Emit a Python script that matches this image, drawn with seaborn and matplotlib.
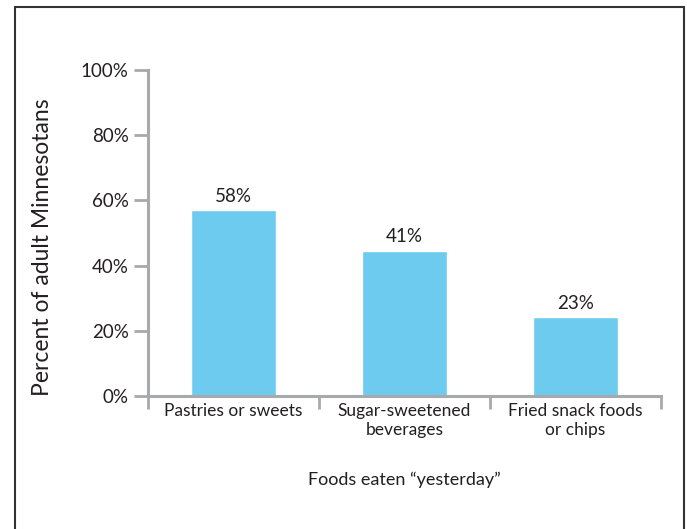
import matplotlib
matplotlib.use("Agg")
import matplotlib.pyplot as plt
import seaborn as sns
import pandas as pd
from matplotlib.patches import Rectangle

# Data
foods = ["Pastries or sweets", "Sugar-sweetened\nbeverages", "Fried snack foods\nor chips"]
bar_heights = [57.0, 44.5, 24.2]          # heights as drawn
value_labels = ["58%", "41%", "23%"]      # labels printed on the bars
y_ticks = [0, 20, 40, 60, 80, 100]

df = pd.DataFrame({"food": foods, "pct": bar_heights})

sns.set_theme(style="white")
plt.rcParams['font.family'] = ['Lato', 'DejaVu Sans']

text_c = "#231f20"
grey = "#a7a9ac"

fig = plt.figure(figsize=(6.87, 5.29), dpi=100)
ax = fig.add_axes([148 / 687, 1 - 396 / 529, (661 - 148) / 687, (396 - 70) / 529])

sns.barplot(data=df, x="food", y="pct", color="#6dcbf0", width=0.5,
            saturation=1, ax=ax)

ax.set_xlim(-0.5, 2.5)
ax.set_ylim(0, 100)
ax.set_yticks(y_ticks)
ax.set_yticklabels([f"{t}%" for t in y_ticks], fontsize=13.5, color=text_c)
ax.set_xticks(range(len(foods)))
ax.set_xticklabels(foods, fontsize=12.5, color=text_c, linespacing=1.25)
ax.set_xticks([-0.5, 0.5, 1.5, 2.5], minor=True)
ax.tick_params(axis="x", which="major", bottom=True, length=0, pad=5)
ax.tick_params(axis="x", which="minor", bottom=True, length=9, width=2,
               color=grey, direction="out")
ax.tick_params(axis="y", left=True, length=10, width=2, color=grey, pad=4)

for s in ["top", "right"]:
    ax.spines[s].set_visible(False)
for s in ["left", "bottom"]:
    ax.spines[s].set_color(grey)
    ax.spines[s].set_linewidth(2.2)

for i, (h, lab) in enumerate(zip(bar_heights, value_labels)):
    ax.annotate(lab, (i, h), xytext=(0, 4), textcoords="offset points",
                ha="center", va="bottom", fontsize=13.5, color=text_c)

ax.set_ylabel("Percent of adult Minnesotans", fontsize=16.5, color=text_c)
ax.yaxis.set_label_coords(-0.185, 0.457)
ax.set_xlabel("Foods eaten \u201cyesterday\u201d", fontsize=13, color=text_c, labelpad=24)

# outer frame (open at the bottom)
fig.patches.append(Rectangle((15 / 687, -0.1), (684 - 15) / 687, 1.1 - 7 / 529,
                             transform=fig.transFigure, fill=False,
                             edgecolor="#333333", linewidth=1.5))

fig.savefig("out.png", dpi=100)
